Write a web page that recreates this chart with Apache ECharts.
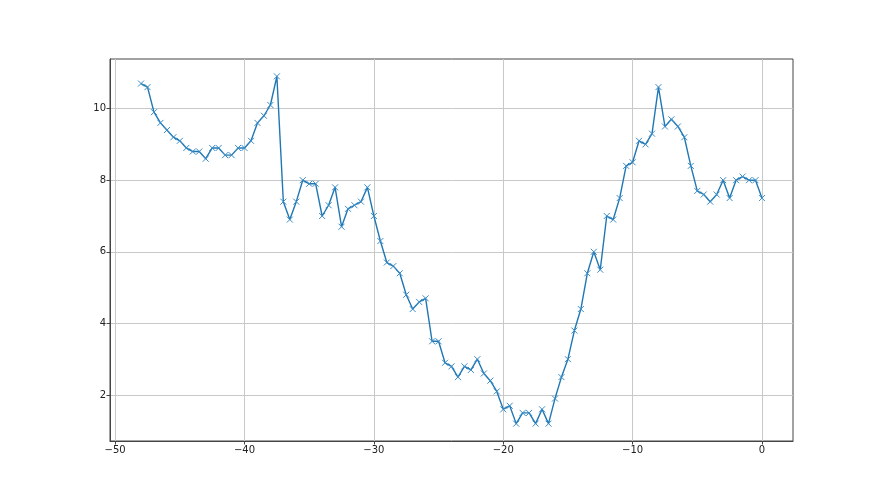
<!DOCTYPE html>
<html>
<head>
<meta charset="utf-8">
<script src="https://cdn.jsdelivr.net/npm/echarts@6/dist/echarts.min.js"></script>
<style>
  html, body { margin: 0; padding: 0; background: #fff; }
  #chart { width: 880px; height: 495px; }
</style>
</head>
<body>
<div id="chart"></div>
<script>
const xs = [
  -48, -47.5, -47, -46.5, -46, -45.5, -45, -44.5, -44, -43.5, -43, -42.5, -42, -41.5, -41, -40.5,
  -40, -39.5, -39, -38.5, -38, -37.5, -37, -36.5, -36, -35.5, -35, -34.5, -34, -33.5, -33, -32.5,
  -32, -31.5, -31, -30.5, -30, -29.5, -29, -28.5, -28, -27.5, -27, -26.5, -26, -25.5, -25, -24.5,
  -24, -23.5, -23, -22.5, -22, -21.5, -21, -20.5, -20, -19.5, -19, -18.5, -18, -17.5, -17, -16.5,
  -16, -15.5, -15, -14.5, -14, -13.5, -13, -12.5, -12, -11.5, -11, -10.5, -10, -9.5, -9, -8.5,
  -8, -7.5, -7, -6.5, -6, -5.5, -5, -4.5, -4, -3.5, -3, -2.5, -2, -1.5, -1, -0.5, 0
];
const ys = [
  10.7, 10.6, 9.9, 9.6, 9.4, 9.2, 9.1, 8.9, 8.8, 8.8, 8.6, 8.9, 8.9, 8.7, 8.7, 8.9,
  8.9, 9.1, 9.6, 9.8, 10.1, 10.9, 7.4, 6.9, 7.4, 8.0, 7.9, 7.9, 7.0, 7.3, 7.8, 6.7,
  7.2, 7.3, 7.4, 7.8, 7.0, 6.3, 5.7, 5.6, 5.4, 4.8, 4.4, 4.6, 4.7, 3.5, 3.5, 2.9,
  2.8, 2.5, 2.8, 2.7, 3.0, 2.6, 2.4, 2.1, 1.6, 1.7, 1.2, 1.5, 1.5, 1.2, 1.6, 1.2,
  1.9, 2.5, 3.0, 3.8, 4.4, 5.4, 6.0, 5.5, 7.0, 6.9, 7.5, 8.4, 8.5, 9.1, 9.0, 9.3,
  10.6, 9.5, 9.7, 9.5, 9.2, 8.4, 7.7, 7.6, 7.4, 7.6, 8.0, 7.5, 8.0, 8.1, 8.0, 8.0, 7.5
];
const xTicks = [-50, -40, -30, -20, -10, 0];
const yTicks = [2, 4, 6, 8, 10];

const data = xs.map((x, i) => [x, ys[i]]);
// matplotlib-style 5% margins
const xMin = -50.4, xMax = 2.4;
const yMin = 0.715, yMax = 11.385;

const fmt = v => String(v).replace('-', '\u2212');
const labelStyle = { color: '#222', fontFamily: 'DejaVu Sans', fontSize: 10 };
const spine = '#444';

const chart = echarts.init(document.getElementById('chart'));
chart.setOption({
  animation: false,
  backgroundColor: '#fff',
  grid: {
    left: 110, right: 87, top: 59, bottom: 54,
    show: true, borderColor: spine, borderWidth: 1, backgroundColor: 'transparent'
  },
  xAxis: {
    type: 'value',
    min: xMin, max: xMax,
    axisLine: { show: true, onZero: false, lineStyle: { color: spine, width: 1 } },
    axisTick: { show: true, length: 3.5, customValues: xTicks, lineStyle: { color: spine, width: 1 } },
    axisLabel: { ...labelStyle, margin: 4, customValues: xTicks, formatter: fmt },
    splitLine: { show: true, lineStyle: { color: '#c8c8c8', width: 1 } }
  },
  yAxis: {
    type: 'value',
    min: yMin, max: yMax,
    axisLine: { show: true, onZero: false, lineStyle: { color: spine, width: 1 } },
    axisTick: { show: true, length: 3.5, customValues: yTicks, lineStyle: { color: spine, width: 1 } },
    axisLabel: { ...labelStyle, margin: 4, customValues: yTicks, formatter: fmt },
    splitLine: { show: true, lineStyle: { color: '#c8c8c8', width: 1 } }
  },
  series: [{
    type: 'line',
    data: data,
    color: '#1f77b4',
    lineStyle: { width: 1.4, color: '#1f77b4' },
    symbol: 'path://M0,0L10,10M10,0L0,10',
    symbolSize: 6,
    showAllSymbol: true,
    itemStyle: { color: '#1f77b4', borderColor: '#3a8cc6', borderWidth: 1 },
    emphasis: { disabled: true }
  }]
});
</script>
</body>
</html>
